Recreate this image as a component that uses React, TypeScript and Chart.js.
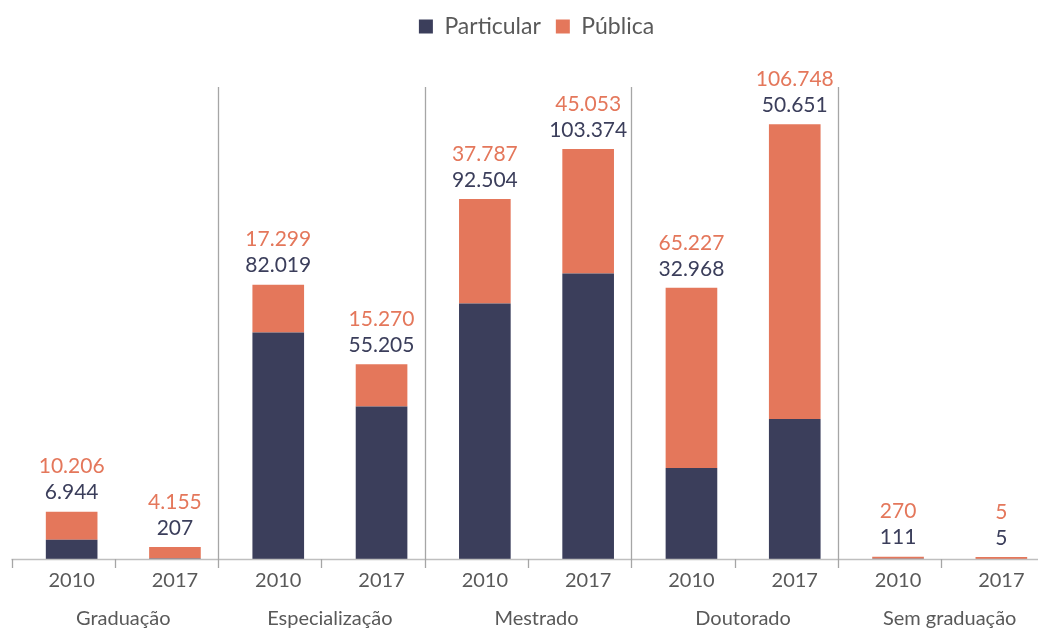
import React, { useEffect, useRef } from "react";
import { Chart, registerables } from "chart.js";

Chart.register(...registerables);

const groups = ["Graduação", "Especialização", "Mestrado", "Doutorado", "Sem graduação"];
const categories = ["2010", "2017", "2010", "2017", "2010", "2017", "2010", "2017", "2010", "2017"];
const particular = [6944, 207, 82019, 55205, 92504, 103374, 32968, 50651, 111, 5];
const publica = [10206, 4155, 17299, 15270, 37787, 45053, 65227, 106748, 270, 5];

const DARK = "#3b3e5b";
const ORANGE = "#e4775b";
const TEXT = "#595959";
const FONT = "Lato";

function fmt(n: number): string {
  return String(n).replace(/\B(?=(\d{3})+(?!\d))/g, ".");
}

const decor = {
  id: "decor",
  afterDatasetsDraw(chart: any) {
    const { ctx, chartArea, scales } = chart;
    const x = scales.x;
    const n = categories.length;
    const step = x.getPixelForValue(1) - x.getPixelForValue(0);
    const shift = -8.5;
    const base = chartArea.bottom;
    const start = x.getPixelForValue(0) - step / 2 + shift;
    ctx.save();
    ctx.strokeStyle = "#bfbfbf";
    ctx.lineWidth = 1.3;
    ctx.beginPath();
    ctx.moveTo(start, base + 0.5);
    ctx.lineTo(chart.width, base + 0.5);
    ctx.stroke();
    ctx.strokeStyle = "#a6a6a6";
    for (let i = 0; i <= n; i++) {
      const px = Math.round(start + i * step) + 0.5;
      const isSep = i > 0 && i < n && i % 2 === 0;
      const top = isSep ? chartArea.top + 39 : base;
      ctx.beginPath();
      ctx.moveTo(px, top);
      ctx.lineTo(px, base + 9);
      ctx.stroke();
    }
    const m0 = chart.getDatasetMeta(0);
    const m1 = chart.getDatasetMeta(1);
    ctx.font = `21px ${FONT}`;
    ctx.textAlign = "center";
    ctx.textBaseline = "middle";
    for (let i = 0; i < n; i++) {
      const bx = m0.data[i].x;
      const topY = Math.min(m0.data[i].y, m1.data[i].y);
      ctx.fillStyle = DARK;
      ctx.fillText(fmt(particular[i]), bx, topY - 19);
      ctx.fillStyle = ORANGE;
      ctx.fillText(fmt(publica[i]), bx, topY - 45);
    }
    ctx.font = `20px ${FONT}`;
    ctx.fillStyle = TEXT;
    for (let g = 0; g < groups.length; g++) {
      const cx = (x.getPixelForValue(2 * g) + x.getPixelForValue(2 * g + 1)) / 2;
      ctx.fillText(groups[g], cx, base + 60);
    }
    ctx.restore();
  },
};

export default function App() {
  const ref = useRef<HTMLCanvasElement>(null);
  useEffect(() => {
    if (!ref.current) return;
    const chart = new Chart(ref.current, {
      type: "bar",
      data: {
        labels: categories,
        datasets: [
          { label: "Particular", data: particular, backgroundColor: DARK, barPercentage: 0.5, categoryPercentage: 1 },
          { label: "Pública", data: publica, backgroundColor: ORANGE, barPercentage: 0.5, categoryPercentage: 1, minBarLength: 2 },
        ],
      },
      options: {
        responsive: false,
        animation: false,
        layout: { padding: { left: 20, right: 7, top: 0, bottom: 0 } },
        plugins: {
          legend: {
            position: "top",
            labels: {
              boxWidth: 14,
              boxHeight: 14,
              padding: 15,
              color: TEXT,
              font: { family: FONT, size: 23 },
            },
          },
          tooltip: { enabled: false },
        },
        scales: {
          x: {
            stacked: true,
            grid: { display: false, drawTicks: false },
            border: { display: false },
            ticks: { color: TEXT, font: { family: FONT, size: 20 }, padding: 10 },
            afterFit: (s: any) => {
              s.height = 71;
            },
          },
          y: {
            stacked: true,
            display: false,
            min: 0,
            max: 185000,
          },
        },
      },
      plugins: [decor],
    });
    return () => chart.destroy();
  }, []);
  return (
    <div style={{ position: "fixed", left: 0, top: 0, width: 1038, height: 630, overflow: "hidden", background: "#fff" }}>
      <canvas ref={ref} width={1060} height={630} style={{ display: "block" }} />
    </div>
  );
}
